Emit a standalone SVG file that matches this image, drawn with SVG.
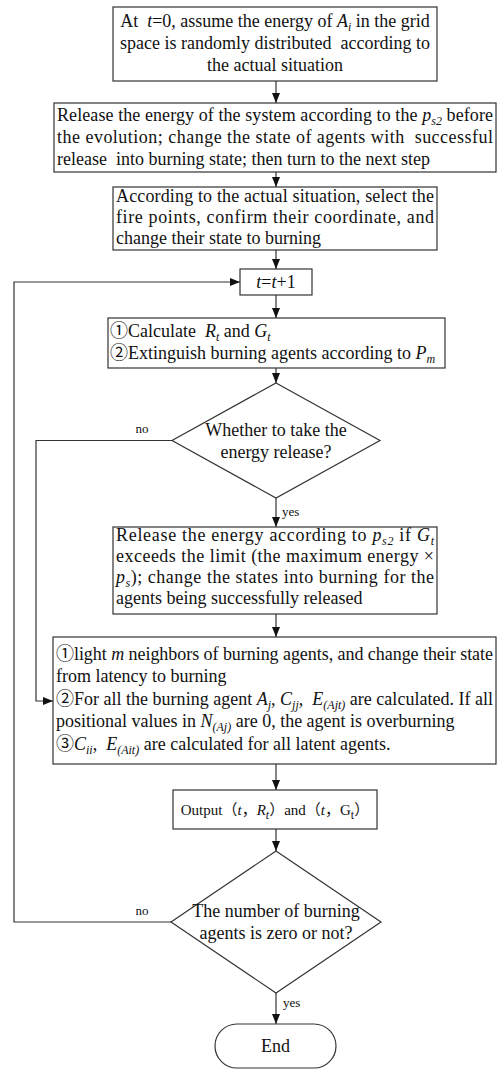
<svg xmlns="http://www.w3.org/2000/svg" width="497" height="1070" viewBox="0 0 497 1070">
<style>
.bg{fill:#fff}
.box{fill:#fff;stroke:#333;stroke-width:1.2}
.ln{fill:none;stroke:#333;stroke-width:1.2}
text{font-family:"Liberation Serif","Times New Roman","Noto Sans CJK SC",serif;font-size:18px;fill:#111}
.c{text-anchor:middle}
.i{font-style:italic}
.s{font-size:12px}
.lbl{font-size:13px}
.o{font-size:15px}
</style>
<defs>
<marker id="ar" markerWidth="10" markerHeight="8" refX="10" refY="4" orient="auto" markerUnits="userSpaceOnUse">
<path d="M0,0 L10,4 L0,8 Z" fill="#111"/>
</marker>
</defs>
<rect class="bg" x="0" y="0" width="497" height="1070"/>

<g id="connectors">
<path class="ln" d="M276,81 V103" marker-end="url(#ar)"/>
<path class="ln" d="M276,172 V187" marker-end="url(#ar)"/>
<path class="ln" d="M276,250 V269" marker-end="url(#ar)"/>
<path class="ln" d="M276,295 V318" marker-end="url(#ar)"/>
<path class="ln" d="M276,368 V383" marker-end="url(#ar)"/>
<path class="ln" d="M276,498 V527" marker-end="url(#ar)"/>
<path class="ln" d="M276,614 V637" marker-end="url(#ar)"/>
<path class="ln" d="M276,764 V790" marker-end="url(#ar)"/>
<path class="ln" d="M276,829 V851" marker-end="url(#ar)"/>
<path class="ln" d="M276,993 V1024" marker-end="url(#ar)"/>
<path class="ln" d="M172,440.5 H36 V701 H53" marker-end="url(#ar)"/>
<path class="ln" d="M172,922 H14 V282 H240" marker-end="url(#ar)"/>
<text class="lbl" x="142" y="433" text-anchor="middle">no</text>
<text class="lbl" x="282" y="516">yes</text>
<text class="lbl" x="142" y="915" text-anchor="middle">no</text>
<text class="lbl" x="283" y="1007">yes</text>
</g>

<g id="n1">
<rect class="box" x="113" y="7" width="324" height="74"/>
<text class="c" x="275" y="27" xml:space="preserve">At  <tspan class="i">t</tspan>=0, assume the energy of <tspan class="i">A</tspan><tspan class="i s" dy="4">i</tspan><tspan dy="-4"> in the grid</tspan></text>
<text class="c" x="275" y="49" xml:space="preserve">space is randomly distributed  according to</text>
<text class="c" x="275" y="71">the actual situation</text>
</g>

<g id="n2">
<rect class="box" x="54" y="103" width="442" height="69"/>
<text x="57" y="121" textLength="436" lengthAdjust="spacing">Release the energy of the system according to the <tspan class="i">p</tspan><tspan class="i s" dy="4">s2</tspan><tspan dy="-4"> before</tspan></text>
<text x="57" y="143" textLength="436" lengthAdjust="spacing" xml:space="preserve">the evolution; change the state of agents with  successful</text>
<text x="57" y="165" xml:space="preserve">release  into burning state; then turn to the next step</text>
</g>

<g id="n3">
<rect class="box" x="113" y="187" width="324" height="63"/>
<text x="116" y="202" textLength="318" lengthAdjust="spacing">According to the actual situation, select the</text>
<text x="116" y="223" textLength="318" lengthAdjust="spacing">fire points, confirm their coordinate, and</text>
<text x="116" y="244">change their state to burning</text>
</g>

<g id="n4">
<rect class="box" x="240" y="269" width="72" height="26"/>
<text class="c" x="276" y="288"><tspan class="i">t</tspan>=<tspan class="i">t</tspan>+1</text>
</g>

<g id="n5">
<rect class="box" x="108" y="318" width="337" height="50"/>
<text x="110" y="337" xml:space="preserve">①Calculate  <tspan class="i">R</tspan><tspan class="i s" dy="4">t</tspan><tspan dy="-4"> and </tspan><tspan class="i">G</tspan><tspan class="i s" dy="4">t</tspan></text>
<text x="110" y="359">②Extinguish burning agents according to <tspan class="i">P</tspan><tspan class="i s" dy="4">m</tspan></text>
</g>

<g id="n6">
<path class="box" d="M276,383 L380,440.5 L276,498 L172,440.5 Z"/>
<text class="c" x="276" y="436">Whether to take the</text>
<text class="c" x="276" y="458">energy release?</text>
</g>

<g id="n7">
<rect class="box" x="113" y="527" width="324" height="87"/>
<text x="116" y="541" textLength="318" lengthAdjust="spacing">Release the energy according to <tspan class="i">p</tspan><tspan class="i s" dy="4">s2</tspan><tspan dy="-4"> if </tspan><tspan class="i">G</tspan><tspan class="i s" dy="4">t</tspan></text>
<text x="116" y="562" textLength="318" lengthAdjust="spacing">exceeds the limit (the maximum energy ×</text>
<text x="116" y="583" textLength="318" lengthAdjust="spacing"><tspan class="i">p</tspan><tspan class="i s" dy="4">s</tspan><tspan dy="-4">); change the states into burning for the</tspan></text>
<text x="116" y="604">agents being successfully released</text>
</g>

<g id="n8">
<rect class="box" x="53" y="637" width="443" height="127"/>
<text x="56" y="660" textLength="437" lengthAdjust="spacing">①light <tspan class="i">m</tspan> neighbors of burning agents, and change their state</text>
<text x="56" y="682">from latency to burning</text>
<text x="56" y="705" textLength="437" lengthAdjust="spacing" xml:space="preserve">②For all the burning agent <tspan class="i">A</tspan><tspan class="i s" dy="4">j</tspan><tspan dy="-4">, </tspan><tspan class="i">C</tspan><tspan class="i s" dy="4">jj</tspan><tspan dy="-4">,  </tspan><tspan class="i">E</tspan><tspan class="i s" dy="4">(Ajt)</tspan><tspan dy="-4"> are calculated. If all</tspan></text>
<text x="56" y="727">positional values in <tspan class="i">N</tspan><tspan class="i s" dy="4">(Aj)</tspan><tspan dy="-4"> are 0, the agent is overburning</tspan></text>
<text x="56" y="750" xml:space="preserve">③<tspan class="i">C</tspan><tspan class="i s" dy="4">ii</tspan><tspan dy="-4">,  </tspan><tspan class="i">E</tspan><tspan class="i s" dy="4">(Ait)</tspan><tspan dy="-4"> are calculated for all latent agents.</tspan></text>
</g>

<g id="n9">
<rect class="box" x="173" y="790" width="204" height="39"/>
<text class="c o" x="275" y="815">Output（<tspan class="i">t</tspan>，<tspan class="i">R</tspan><tspan class="i s" dy="4">t</tspan><tspan dy="-4">）and（</tspan><tspan class="i">t</tspan>，G<tspan class="s" dy="4">t</tspan><tspan dy="-4">）</tspan></text>
</g>

<g id="n10">
<path class="box" d="M276,851 L381,922 L276,993 L171,922 Z"/>
<text class="c" x="276" y="917">The number of burning</text>
<text class="c" x="276" y="939">agents is zero or not?</text>
</g>

<g id="n11">
<rect class="box" x="215" y="1024" width="121" height="44" rx="22" ry="22"/>
<text class="c" x="275.5" y="1052">End</text>
</g>
</svg>
